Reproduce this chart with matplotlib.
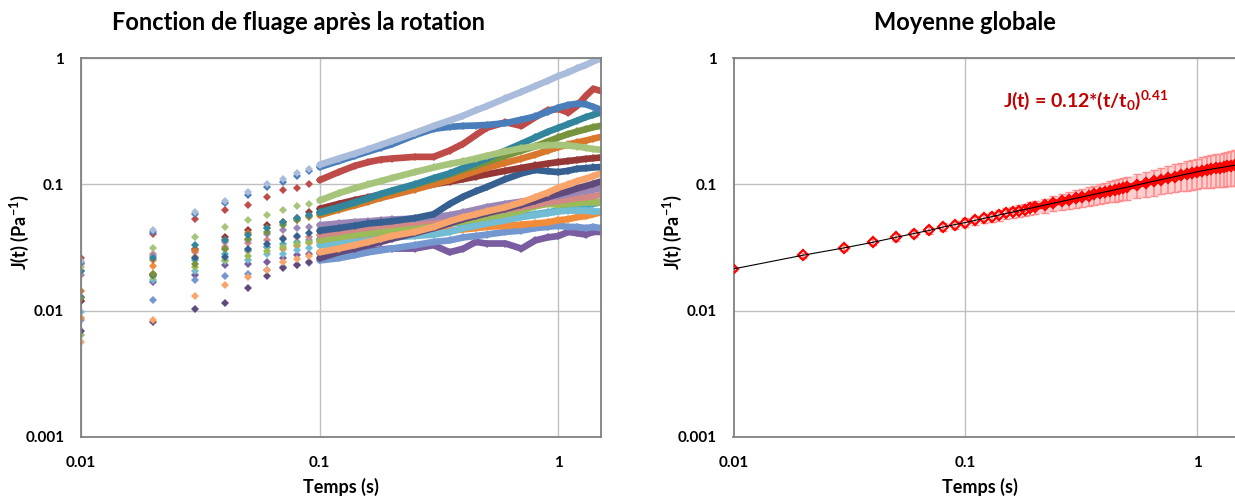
import matplotlib
matplotlib.use('Agg')
import matplotlib.pyplot as plt

plt.rcParams['font.family'] = ['Lato', 'DejaVu Sans']
plt.rcParams['font.weight'] = 'bold'
plt.rcParams['mathtext.default'] = 'regular'

# temps de mesure (s) pour les courbes individuelles
t_mesure = [0.01, 0.02, 0.03, 0.04, 0.05, 0.06, 0.07, 0.08, 0.09,
            0.1, 0.12, 0.14, 0.16, 0.18, 0.2, 0.25, 0.3, 0.35, 0.4, 0.45, 0.5,
            0.6, 0.7, 0.8, 0.9, 1.0, 1.1, 1.2, 1.3, 1.4, 1.5]

# J(t) (Pa-1) de chaque cellule
j_violet = [0.0119, 0.0169, 0.019, 0.0229, 0.0234, 0.0244, 0.0263, 0.0276, 0.0283,
            0.0285, 0.029, 0.0295, 0.030, 0.0305, 0.031, 0.031, 0.033, 0.029, 0.031, 0.035, 0.034,
            0.034, 0.031, 0.036, 0.038, 0.039, 0.042, 0.041, 0.040, 0.042, 0.042]
j_bleu_moyen = [0.0085, 0.0122, 0.0175, 0.0187, 0.0196, 0.021, 0.022, 0.023, 0.0237,
                0.025, 0.026, 0.0275, 0.029, 0.030, 0.031, 0.033, 0.035, 0.036, 0.038, 0.039, 0.040,
                0.042, 0.043, 0.045, 0.046, 0.047, 0.046, 0.046, 0.045, 0.046, 0.045]
j_orange = [0.0087, 0.0225, 0.0267, 0.031, 0.0297, 0.0321, 0.031, 0.0324, 0.0341,
            0.035, 0.037, 0.038, 0.039, 0.0395, 0.040, 0.041, 0.042, 0.043, 0.044, 0.045, 0.046,
            0.047, 0.048, 0.049, 0.050, 0.052, 0.053, 0.055, 0.056, 0.058, 0.060]
j_aqua = [0.0205, 0.019, 0.025, 0.028, 0.030, 0.032, 0.0336, 0.035, 0.036,
          0.037, 0.039, 0.040, 0.041, 0.042, 0.043, 0.045, 0.047, 0.049, 0.050, 0.051, 0.052,
          0.054, 0.056, 0.058, 0.060, 0.062, 0.064, 0.066, 0.068, 0.070, 0.072]
j_aqua_clair = [0.0098, 0.0175, 0.0206, 0.0248, 0.0252, 0.028, 0.0283, 0.030, 0.0316,
                0.033, 0.034, 0.035, 0.036, 0.037, 0.038, 0.039, 0.040, 0.042, 0.045, 0.047, 0.049,
                0.052, 0.055, 0.057, 0.059, 0.061, 0.062, 0.062, 0.062, 0.061, 0.061]
j_vert = [0.0064, 0.0185, 0.022, 0.025, 0.0271, 0.0295, 0.032, 0.0335, 0.035,
          0.036, 0.038, 0.040, 0.041, 0.042, 0.043, 0.045, 0.047, 0.049, 0.051, 0.053, 0.055,
          0.058, 0.062, 0.067, 0.070, 0.069, 0.070, 0.071, 0.072, 0.072, 0.072]
j_rose = [0.0235, 0.028, 0.029, 0.032, 0.0341, 0.036, 0.0373, 0.038, 0.0385,
          0.040, 0.042, 0.044, 0.0455, 0.047, 0.048, 0.050, 0.052, 0.054, 0.056, 0.058, 0.060,
          0.063, 0.066, 0.069, 0.072, 0.074, 0.076, 0.078, 0.079, 0.081, 0.082]
j_lavande = [0.019, 0.0271, 0.0301, 0.035, 0.0365, 0.0408, 0.0438, 0.0454, 0.0459,
             0.0475, 0.049, 0.0503, 0.051, 0.052, 0.0527, 0.0535, 0.055, 0.057, 0.060, 0.063, 0.066,
             0.070, 0.073, 0.076, 0.079, 0.081, 0.084, 0.087, 0.089, 0.091, 0.093]
j_violet_fonce = [0.0069, 0.0082, 0.0104, 0.0115, 0.0151, 0.0187, 0.0216, 0.023, 0.0245,
                  0.026, 0.029, 0.031, 0.033, 0.035, 0.037, 0.041, 0.045, 0.049, 0.053, 0.056, 0.059,
                  0.064, 0.069, 0.074, 0.079, 0.084, 0.088, 0.093, 0.097, 0.101, 0.105]
j_saumon = [0.0056, 0.0085, 0.013, 0.0159, 0.0185, 0.0209, 0.0244, 0.0255, 0.0271,
            0.029, 0.031, 0.033, 0.035, 0.037, 0.039, 0.042, 0.046, 0.051, 0.055, 0.058, 0.061,
            0.066, 0.072, 0.079, 0.086, 0.094, 0.100, 0.106, 0.111, 0.116, 0.122]
j_bleu_fonce = [0.0128, 0.019, 0.026, 0.0267, 0.031, 0.034, 0.037, 0.039, 0.041,
                0.043, 0.045, 0.047, 0.049, 0.050, 0.051, 0.054, 0.058, 0.070, 0.080, 0.088, 0.095,
                0.110, 0.122, 0.130, 0.127, 0.125, 0.128, 0.133, 0.134, 0.136, 0.137]
j_rouge_fonce = [0.0119, 0.0196, 0.031, 0.0386, 0.0438, 0.0475, 0.0504, 0.0546, 0.0605,
                 0.0641, 0.070, 0.075, 0.079, 0.083, 0.086, 0.093, 0.100, 0.105, 0.110, 0.115, 0.120,
                 0.128, 0.135, 0.141, 0.146, 0.150, 0.153, 0.156, 0.159, 0.161, 0.163]
j_orange_brun = [0.0142, 0.0252, 0.030, 0.036, 0.041, 0.045, 0.049, 0.052, 0.055,
                 0.057, 0.063, 0.068, 0.073, 0.078, 0.082, 0.091, 0.100, 0.108, 0.118, 0.127, 0.135,
                 0.148, 0.160, 0.172, 0.185, 0.197, 0.207, 0.215, 0.222, 0.230, 0.237]
j_olive = [0.0125, 0.0196, 0.0235, 0.031, 0.037, 0.042, 0.0475, 0.0521, 0.0557,
           0.059, 0.065, 0.071, 0.077, 0.083, 0.088, 0.099, 0.110, 0.120, 0.131, 0.140, 0.150,
           0.168, 0.185, 0.200, 0.218, 0.235, 0.250, 0.262, 0.273, 0.283, 0.290]
j_canard = [0.0205, 0.026, 0.033, 0.036, 0.040, 0.045, 0.050, 0.054, 0.057,
            0.060, 0.066, 0.072, 0.078, 0.084, 0.089, 0.100, 0.112, 0.122, 0.135, 0.147, 0.160,
            0.185, 0.210, 0.235, 0.260, 0.280, 0.300, 0.320, 0.340, 0.355, 0.370]
j_vert_clair = [0.0222, 0.0311, 0.0386, 0.0459, 0.0521, 0.0569, 0.0625, 0.067, 0.0705,
                0.0745, 0.085, 0.093, 0.100, 0.106, 0.112, 0.125, 0.136, 0.145, 0.152, 0.160, 0.168,
                0.182, 0.193, 0.200, 0.204, 0.205, 0.203, 0.199, 0.195, 0.190, 0.188]
j_rouge = [0.0259, 0.0403, 0.0529, 0.0624, 0.069, 0.0794, 0.0895, 0.0929, 0.101,
           0.108, 0.125, 0.140, 0.150, 0.157, 0.160, 0.165, 0.165, 0.185, 0.210, 0.245, 0.280,
           0.310, 0.290, 0.340, 0.385, 0.395, 0.370, 0.420, 0.500, 0.570, 0.550]
j_bleu = [0.0238, 0.042, 0.058, 0.071, 0.083, 0.095, 0.105, 0.116, 0.127,
          0.137, 0.153, 0.168, 0.182, 0.195, 0.207, 0.245, 0.275, 0.285, 0.290, 0.292, 0.295,
          0.305, 0.325, 0.345, 0.375, 0.405, 0.425, 0.435, 0.430, 0.410, 0.390]
j_gris_bleu = [0.0246, 0.0438, 0.0606, 0.074, 0.0862, 0.0997, 0.110, 0.122, 0.133,
               0.143, 0.160, 0.175, 0.190, 0.205, 0.220, 0.255, 0.290, 0.320, 0.350, 0.385, 0.415,
               0.480, 0.540, 0.600, 0.660, 0.720, 0.770, 0.830, 0.880, 0.940, 0.990]

# moyenne globale et écart
t_moy = [0.01, 0.02, 0.03, 0.04, 0.05, 0.06, 0.07, 0.08, 0.09, 0.1,
         0.11, 0.12, 0.13, 0.14, 0.15, 0.16, 0.17, 0.18, 0.19, 0.2,
         0.22, 0.24, 0.26, 0.28, 0.3, 0.32, 0.34, 0.36, 0.38, 0.4,
         0.42, 0.44, 0.46, 0.48, 0.5, 0.55, 0.6, 0.65, 0.7, 0.75,
         0.8, 0.85, 0.9, 0.95, 1.0, 1.05, 1.1, 1.15, 1.2, 1.25,
         1.3, 1.35, 1.4, 1.45, 1.5]
j_moy = [0.0214, 0.0275, 0.0314, 0.0348, 0.0380, 0.0408, 0.0432, 0.0459, 0.0480, 0.0498,
         0.0518, 0.0537, 0.0555, 0.0572, 0.0588, 0.0603, 0.0618, 0.0632, 0.0646, 0.0659,
         0.0685, 0.0709, 0.0732, 0.0754, 0.0775, 0.0795, 0.0815, 0.0834, 0.0852, 0.0870,
         0.0887, 0.0904, 0.0920, 0.0936, 0.0951, 0.0988, 0.1024, 0.1058, 0.1090, 0.1121,
         0.1150, 0.1178, 0.1205, 0.1231, 0.1256, 0.1280, 0.1300, 0.1318, 0.1335, 0.1352,
         0.1368, 0.1385, 0.1400, 0.1415, 0.1430]
err_moy = [0.0008, 0.0012, 0.0015, 0.0018, 0.0021, 0.0024, 0.0028, 0.0031, 0.0035, 0.0039,
           0.0043, 0.0047, 0.0051, 0.0055, 0.0059, 0.0063, 0.0067, 0.0071, 0.0075, 0.0079,
           0.0087, 0.0095, 0.0104, 0.0112, 0.0120, 0.0128, 0.0136, 0.0144, 0.0152, 0.0160,
           0.0167, 0.0174, 0.0181, 0.0188, 0.0195, 0.0212, 0.0228, 0.0243, 0.0258, 0.0272,
           0.0286, 0.0300, 0.0314, 0.0328, 0.0340, 0.0352, 0.0364, 0.0376, 0.0388, 0.0400,
           0.0410, 0.0420, 0.0430, 0.0440, 0.0450]

courbes = [
    (j_violet, '#7A5DA0'),
    (j_bleu_moyen, '#7397CE'),
    (j_orange, '#F28C39'),
    (j_aqua, '#4BACC6'),
    (j_aqua_clair, '#72BCD4'),
    (j_vert, '#9BBB59'),
    (j_rose, '#D38885'),
    (j_lavande, '#9A87B8'),
    (j_violet_fonce, '#5F4A7B'),
    (j_saumon, '#F9A46A'),
    (j_bleu_fonce, '#376092'),
    (j_rouge_fonce, '#953735'),
    (j_orange_brun, '#D9782D'),
    (j_olive, '#77933C'),
    (j_canard, '#31859C'),
    (j_vert_clair, '#A7C47B'),
    (j_rouge, '#BE4B48'),
    (j_bleu, '#4A7EBB'),
    (j_gris_bleu, '#AABCDC'),
]
n_isoles = 9   # premiers points bien séparés (gauche)
n_dense = 19   # à droite, les losanges se touchent après t = 0.2 s


def mise_en_forme(ax):
    ax.set_xscale('log')
    ax.set_yscale('log')
    ax.set_xlim(0.01, 1.5)
    ax.set_ylim(0.001, 1)
    ax.set_xticks([0.01, 0.1, 1])
    ax.set_xticklabels(['0.01', '0.1', '1'])
    ax.set_yticks([0.001, 0.01, 0.1, 1])
    ax.set_yticklabels(['0.001', '0.01', '0.1', '1'])
    ax.minorticks_off()
    ax.tick_params(axis='y', length=0, labelsize=11, pad=12)
    ax.tick_params(axis='x', length=0, labelsize=11, pad=14)
    ax.grid(True, which='major', color='#C0C0C0', lw=1)
    ax.set_axisbelow(True)
    for s in ax.spines.values():
        s.set_color('#808080')
        s.set_linewidth(1.3)


fig = plt.figure(figsize=(12.35, 4.97), dpi=100)

# graphe de gauche : toutes les courbes
ax1 = fig.add_axes([81 / 1235, 1 - 437 / 497, 519.5 / 1235, 379 / 497])
for j, couleur in courbes:
    ax1.plot(t_mesure[:n_isoles], j[:n_isoles], 'D', color=couleur, ms=4.1, mew=0)
    ax1.plot(t_mesure[n_isoles:], j[n_isoles:], '-', color=couleur, lw=4.8,
             marker='D', ms=4.1, mew=0, solid_capstyle='round')
mise_en_forme(ax1)

# graphe de droite : moyenne
ax2 = fig.add_axes([733.5 / 1235, 1 - 437 / 497, 504.5 / 1235, 379 / 497])
bas = [m - e for m, e in zip(j_moy, err_moy)]
haut = [m + e for m, e in zip(j_moy, err_moy)]
ax2.fill_between(t_moy[n_dense:], bas[n_dense:], haut[n_dense:],
                 color='#FFCFCF', lw=0, zorder=1)
ax2.errorbar(t_moy, j_moy, yerr=err_moy, fmt='none', ecolor='#FF8C8C',
             elinewidth=1.2, capsize=3, capthick=1.0, zorder=2)
ax2.plot(t_moy[n_dense:], j_moy[n_dense:], '-', color='#FF0000', lw=4.5,
         solid_capstyle='round', zorder=3)
ax2.plot(t_moy, j_moy, 'D', ms=5.6, mfc='none', mec='#FF0000', mew=1.6, zorder=4)
ax2.plot(t_moy, j_moy, '-', color='black', lw=0.8, zorder=5)
mise_en_forme(ax2)

fig.text(1003 / 1235, 1 - 100 / 497, 'J(t) = 0.12*(t/t$_0$)$^{0.41}$',
         color='#C00000', fontsize=14, ha='left', va='center')

# titres et noms d'axes
fig.text(299 / 1235, 1 - 22 / 497, 'Fonction de fluage après la rotation',
         fontsize=17, ha='center', va='center')
fig.text(965 / 1235, 1 - 22 / 497, 'Moyenne globale',
         fontsize=17, ha='center', va='center')
fig.text(341 / 1235, 1 - 487 / 497, 'Temps (s)', fontsize=13, ha='center', va='center')
fig.text(980 / 1235, 1 - 487 / 497, 'Temps (s)', fontsize=13, ha='center', va='center')
fig.text(19 / 1235, 1 - 232 / 497, 'J(t) (Pa$^{-1}$)', fontsize=13, rotation=90,
         ha='center', va='center')
fig.text(672 / 1235, 1 - 232 / 497, 'J(t) (Pa$^{-1}$)', fontsize=13, rotation=90,
         ha='center', va='center')

fig.savefig('out.png', dpi=100)
